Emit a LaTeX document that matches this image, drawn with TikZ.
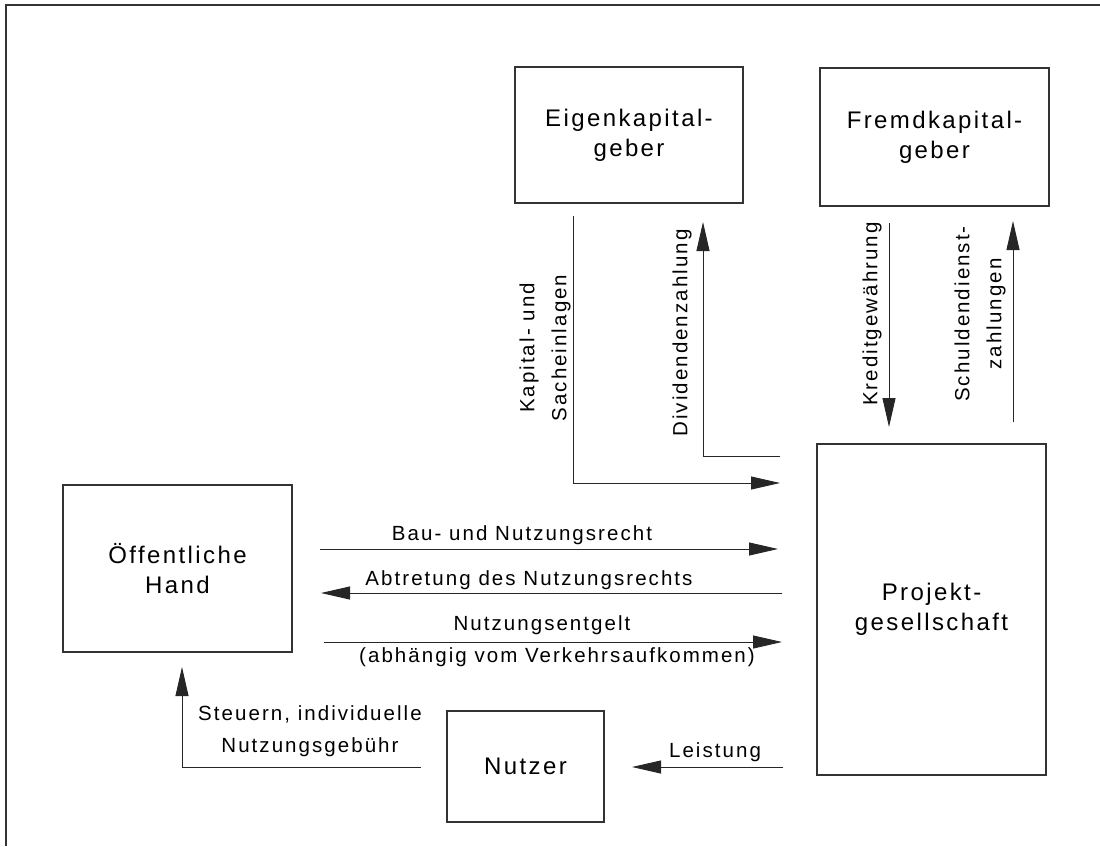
\documentclass[tikz,border=0pt]{standalone}
\usepackage{fontspec}
\setmainfont{Liberation Sans}[LetterSpace=10]
\usetikzlibrary{arrows.meta}
\tikzset{
  box/.style={draw=black!80, line width=1.2pt, rectangle, inner sep=0pt, align=center,
    font=\fontsize{24}{30}\selectfont},
  arr/.style={draw=black!85, line width=0.9pt, -{Triangle[length=29pt,width=13pt]}},
  lbl/.style={inner sep=0pt, align=center, font=\fontsize{20.5}{32}\selectfont},
  frame/.style={draw=black!80, line width=1.6pt}
}
\begin{document}
\begin{tikzpicture}[x=1pt,y=-1pt]
\useasboundingbox (0,0) rectangle (1100,846);
\draw[frame] (6,846) -- (6,5) -- (1100,5);

% boxes
\node[box, minimum width=228pt, minimum height=136pt] (eigen) at (629,135) {Eigenkapital-\\geber};
\node[box, minimum width=229pt, minimum height=138pt] (fremd) at (934.5,137) {Fremdkapital-\\geber};
\node[box, minimum width=229pt, minimum height=331pt] (proj) at (931.5,609.5) {Projekt-\\gesellschaft};
\node[box, minimum width=229pt, minimum height=167pt] (oeff) at (177.5,568.5) {Öffentliche\\Hand};
\node[box, minimum width=157pt, minimum height=111pt] (nutzer) at (525.5,766.5) {Nutzer};

% connector end points
\coordinate (k1) at (573,216);
\coordinate (k2) at (780,483);
\coordinate (d1) at (780,456);
\coordinate (d2) at (703,222);
\coordinate (kr1) at (889,223);
\coordinate (kr2) at (889,427);
\coordinate (s1) at (1013,422);
\coordinate (s2) at (1013,221);
\coordinate (b1) at (320,549);
\coordinate (b2) at (778,549);
\coordinate (a1) at (782,593);
\coordinate (a2) at (321,593);
\coordinate (n1) at (324,642);
\coordinate (n2) at (782,642);
\coordinate (st1) at (421,767);
\coordinate (st2) at (182,667);
\coordinate (l1) at (783,767);
\coordinate (l2) at (632,767);

% connectors
\draw[arr] (k1) |- (k2);
\draw[arr] (d1) -| (d2);
\draw[arr] (kr1) -- (kr2);
\draw[arr] (s1) -- (s2);
\draw[arr] (b1) -- (b2);
\draw[arr] (a1) -- (a2);
\draw[arr] (n1) -- (n2);
\draw[arr] (st1) -| (st2);
\draw[arr] (l1) -- (l2);

% labels
\node[lbl, rotate=90] (lk) at (545,348) {Kapital- und\\Sacheinlagen};
\node[lbl, rotate=90] (ld) at (682,333) {Dividendenzahlung};
\node[lbl, rotate=90] (lkr) at (872,314) {Kreditgewährung};
\node[lbl, rotate=90] (ls) at (980,314) {Schuldendienst-\\zahlungen};
\node[lbl] (lb) at (522,535) {Bau- und Nutzungsrecht};
\node[lbl] (la) at (529,580) {Abtretung des Nutzungsrechts};
\node[lbl] (ln) at (542,625) {Nutzungsentgelt};
\node[lbl] (ln2) at (557,657) {(abhängig vom Verkehrsaufkommen)};
\node[lbl] (lst) at (310,731) {Steuern, individuelle\\Nutzungsgebühr};
\node[lbl] (ll) at (715,752) {Leistung};
\end{tikzpicture}
\end{document}
